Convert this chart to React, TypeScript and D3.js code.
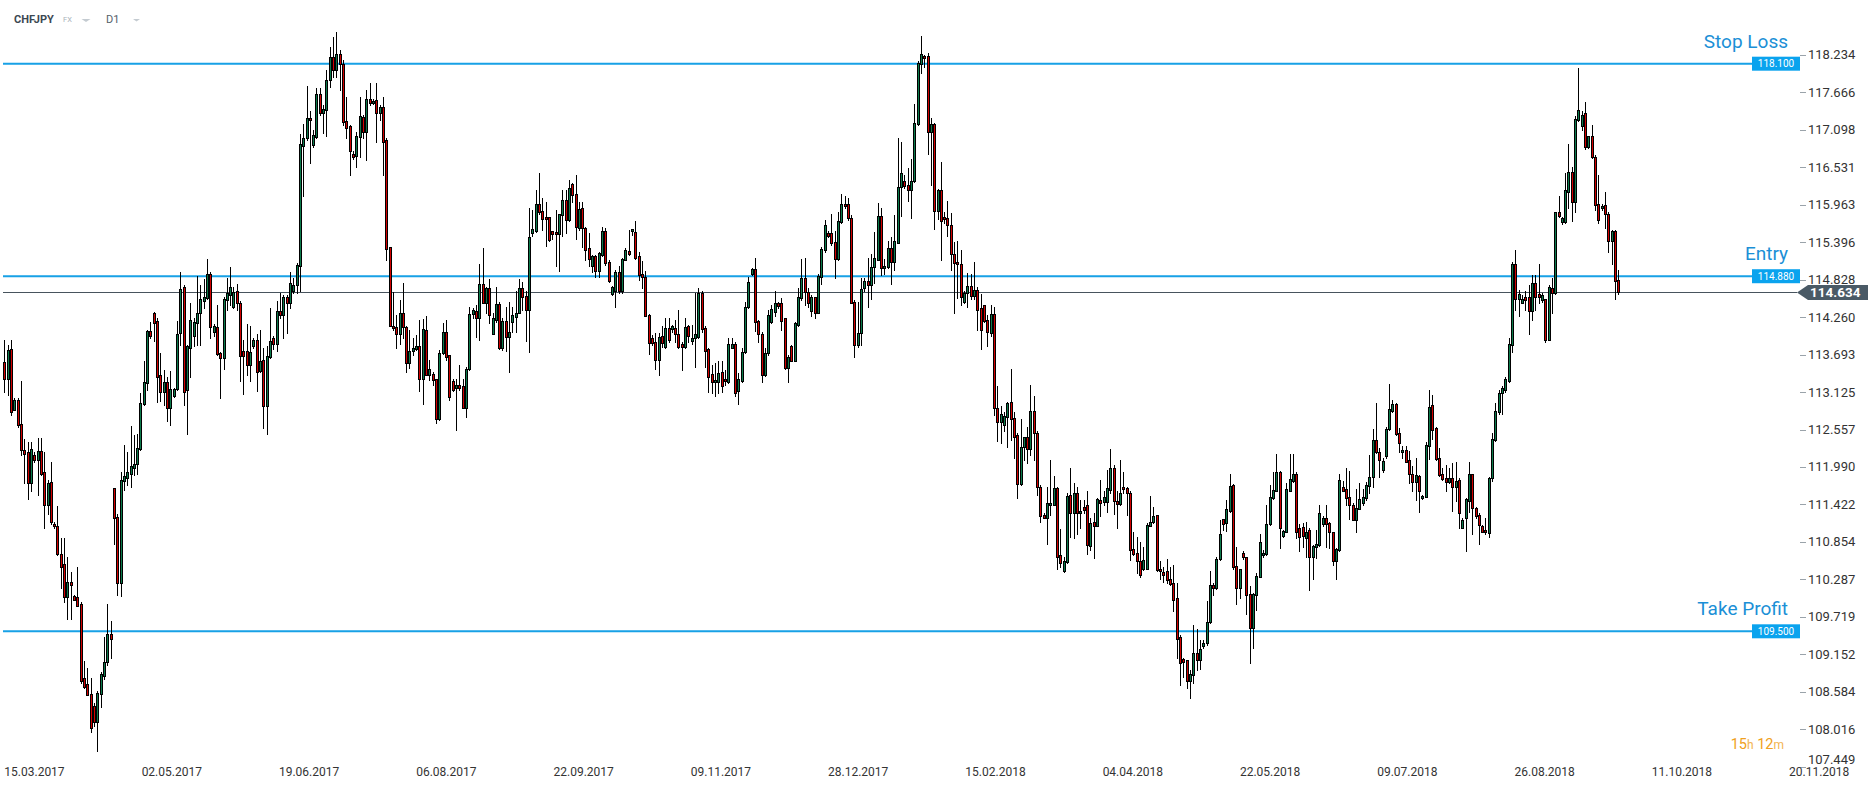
import React from 'react';
import * as d3 from 'd3';

// Daily CHFJPY candles, [open, high, low, close]
const ohlc: [number, number, number, number][] = [
  [113.58,113.91,113.12,113.33],[113.33,113.84,113.08,113.76],[113.77,113.91,112.77,112.82],[112.86,113.03,112.85,113.00],
  [113.00,113.03,112.60,112.62],[112.64,113.29,112.17,112.24],[112.24,112.42,111.75,112.19],[112.21,112.37,111.50,111.75],
  [111.75,112.37,111.62,112.26],[112.17,112.22,112.07,112.10],[112.10,112.43,111.57,112.23],[112.23,112.43,111.87,111.89],
  [111.91,112.22,111.06,111.41],[111.41,111.80,111.27,111.74],[111.76,112.07,111.12,111.15],[111.13,111.16,111.07,111.09],
  [111.09,111.40,110.66,110.67],[110.67,110.91,110.15,110.47],[110.52,110.91,109.94,110.02],[110.02,110.63,109.68,110.25],
  [110.25,110.40,109.68,110.20],[110.04,110.05,109.98,109.98],[110.02,110.48,109.88,109.88],[109.91,109.95,108.71,108.75],
  [108.79,109.05,108.64,108.66],[108.70,108.94,108.53,108.54],[108.55,108.79,107.98,108.03],[108.37,108.41,108.06,108.12],
  [108.12,108.60,107.69,108.56],[108.55,108.89,108.35,108.85],[108.83,109.42,108.78,109.04],[109.03,109.92,108.99,109.46],
  [109.46,109.65,109.09,109.39],[111.67,111.67,110.83,111.21],[111.23,111.28,110.05,110.23],[110.23,111.92,110.04,111.79],
  [111.77,112.32,111.64,111.85],[111.83,112.22,111.72,111.91],[111.88,112.61,111.69,112.00],[111.97,112.48,111.87,112.03],
  [112.03,112.49,111.88,112.27],[112.26,113.11,112.25,112.96],[112.94,113.60,112.93,113.28],[113.26,114.07,113.16,114.05],
  [114.05,114.19,113.94,113.97],[114.33,114.34,113.90,114.17],[114.20,114.24,112.98,113.36],[113.38,113.72,112.99,113.12],
  [113.13,113.46,112.93,113.28],[113.28,113.36,112.68,112.89],[112.89,113.45,112.63,113.17],[113.07,113.19,113.05,113.17],
  [113.17,114.20,113.16,114.01],[114.02,114.94,113.84,114.68],[114.71,114.75,112.93,113.12],[113.16,113.84,112.49,113.82],
  [113.80,114.47,113.36,114.22],[113.97,114.25,113.82,114.19],[114.17,114.88,113.84,114.33],[114.32,114.74,113.84,114.53],
  [114.50,114.84,114.40,114.56],[114.55,115.14,114.54,114.92],[114.92,114.95,113.94,114.11],[114.04,114.15,113.97,114.12],
  [114.11,114.44,113.68,113.70],[113.71,113.73,113.03,113.64],[113.64,114.56,113.48,114.53],[114.52,114.85,114.37,114.63],
  [114.60,115.02,114.45,114.71],[114.41,114.72,114.40,114.64],[114.65,114.76,114.37,114.47],[114.48,114.50,113.29,113.67],
  [113.75,113.92,113.09,113.67],[113.75,114.15,113.39,113.53],[113.53,114.13,113.29,113.73],[113.82,113.94,113.79,113.91],
  [113.91,114.00,113.14,113.43],[113.44,114.07,113.43,113.60],[113.61,113.79,112.58,112.91],[112.91,113.82,112.49,113.67],
  [113.65,114.40,113.64,113.90],[113.94,113.97,113.77,113.85],[113.85,114.50,113.75,114.35],[114.35,114.63,114.25,114.29],
  [114.29,114.60,113.94,114.56],[114.56,114.60,114.02,114.48],[114.48,114.95,114.40,114.78],[114.65,114.85,114.63,114.74],
  [114.74,115.08,114.63,115.05],[115.03,117.03,114.65,116.88],[116.86,117.18,116.09,116.97],[116.97,117.76,116.95,117.27],
  [117.28,117.39,116.60,117.24],[116.87,117.10,116.84,117.02],[116.99,117.73,116.97,117.64],[117.64,117.73,117.32,117.35],
  [117.35,117.47,117.05,117.41],[117.40,118.00,117.00,117.85],[117.85,118.35,117.75,118.20],[118.20,118.50,117.90,118.00],
  [118.00,118.58,117.90,118.25],[118.25,118.30,117.70,118.10],[118.10,118.15,117.17,117.21],[117.23,117.60,116.97,117.13],
  [117.16,117.17,116.41,116.77],[116.73,116.77,116.66,116.69],[116.70,117.07,116.54,117.00],[116.99,117.60,116.69,117.30],
  [117.29,117.32,116.97,117.07],[117.06,117.70,116.64,117.56],[117.56,117.80,117.47,117.50],[117.50,117.56,117.49,117.54],
  [117.55,117.80,116.92,117.35],[117.35,117.47,117.25,117.44],[117.44,117.60,116.41,116.92],[116.94,116.97,115.13,115.29],
  [115.32,115.33,114.12,114.13],[114.13,114.64,114.07,114.09],[114.11,114.29,113.79,114.00],[114.01,114.52,113.86,114.32],
  [114.32,114.77,113.94,114.11],[114.11,114.12,113.43,113.56],[113.56,114.07,113.49,113.75],[113.75,113.94,113.69,113.79],
  [113.77,113.99,113.76,113.82],[113.82,114.22,113.14,113.32],[113.32,114.23,112.95,114.08],[114.06,114.28,113.38,113.39],
  [113.39,113.61,113.31,113.47],[113.40,113.43,113.23,113.31],[113.32,113.33,112.65,112.71],[112.71,113.76,112.70,113.71],
  [113.71,114.17,113.70,114.03],[114.04,114.22,113.61,113.65],[113.69,113.69,113.00,113.05],[113.29,113.33,113.14,113.16],
  [113.18,113.33,112.55,113.23],[113.23,113.54,113.16,113.18],[113.21,113.33,112.88,112.88],[112.88,113.51,112.74,113.48],
  [113.48,114.42,113.46,114.30],[114.30,114.40,114.24,114.37],[114.36,114.44,113.96,114.24],[114.24,115.06,113.91,114.76],
  [114.76,115.30,114.47,114.48],[114.48,114.72,114.32,114.70],[114.70,114.84,114.17,114.29],[114.01,114.32,114.00,114.24],
  [114.22,114.72,114.19,114.46],[114.46,114.49,113.77,113.79],[113.79,114.24,113.76,114.20],[114.20,114.42,113.74,113.96],
  [113.96,114.49,113.43,114.03],[114.18,114.42,114.04,114.29],[114.26,114.66,114.04,114.33],[114.33,114.84,114.32,114.70],
  [114.70,114.79,114.37,114.56],[114.58,114.65,113.90,114.37],[114.37,115.91,113.73,115.47],[115.54,115.88,115.49,115.59],
  [115.57,116.19,115.55,115.97],[115.97,116.44,115.83,115.86],[115.87,116.06,115.58,115.74],[115.77,116.00,115.34,115.74],
  [115.77,115.78,115.42,115.43],[115.56,115.57,115.45,115.52],[115.55,115.88,115.03,115.52],[115.52,115.83,114.96,115.82],
  [115.81,116.19,115.49,116.04],[116.04,116.19,115.54,115.73],[115.73,116.34,115.71,116.21],[116.28,116.29,116.01,116.11],
  [116.13,116.41,115.45,115.62],[115.61,116.01,115.58,115.90],[115.91,116.00,115.33,115.61],[115.61,115.63,115.13,115.28],
  [115.30,115.53,115.03,115.14],[115.03,115.20,114.95,115.18],[115.19,115.20,114.87,114.96],[114.96,115.25,114.87,115.23],
  [115.20,115.63,115.18,115.57],[115.56,115.61,115.05,115.08],[115.10,115.13,114.79,114.80],[114.61,114.73,114.60,114.72],
  [114.65,114.97,114.42,114.95],[114.95,115.03,114.63,114.65],[114.65,115.15,114.63,115.14],[115.13,115.30,115.12,115.27],
  [115.26,115.58,115.20,115.21],[115.56,115.60,115.51,115.59],[115.55,115.72,115.14,115.15],[115.18,115.25,114.82,114.90],
  [114.92,115.11,114.70,114.87],[114.87,114.96,114.27,114.28],[114.29,114.30,113.70,113.87],[113.95,113.99,113.84,113.87],
  [113.88,114.02,113.48,113.61],[113.61,114.02,113.38,113.96],[113.97,114.12,113.81,113.87],[113.81,114.24,113.80,114.09],
  [114.09,114.24,113.89,113.91],[114.08,114.14,114.04,114.12],[114.10,114.22,113.89,114.01],[114.01,114.37,113.79,113.81],
  [113.86,113.89,113.46,113.81],[113.81,114.24,113.79,114.11],[114.12,114.14,113.89,113.98],[113.90,114.14,113.86,113.95],
  [113.95,114.62,113.51,114.00],[113.96,114.70,113.95,114.62],[114.62,114.66,114.04,114.08],[114.09,114.12,113.51,113.74],
  [113.78,113.80,113.13,113.36],[113.40,113.54,113.11,113.27],[113.27,113.56,113.06,113.31],[113.28,113.59,113.11,113.42],
  [113.43,113.59,113.13,113.22],[113.33,113.46,113.23,113.29],[113.28,113.95,113.26,113.85],[113.80,113.95,113.79,113.86],
  [113.86,113.89,113.06,113.11],[113.14,113.41,112.95,113.32],[113.29,113.79,113.28,113.73],[113.73,114.49,113.71,114.42],
  [114.42,114.87,114.40,114.79],[114.92,115.00,114.90,114.99],[114.99,115.15,114.05,114.18],[114.20,114.22,113.89,114.01],
  [114.01,114.04,113.28,113.39],[113.38,113.79,113.37,113.71],[113.71,114.37,113.69,114.29],[114.18,114.44,114.17,114.38],
  [114.34,114.65,114.27,114.48],[114.47,114.49,114.40,114.43],[114.47,114.55,114.07,114.20],[114.24,114.25,113.47,113.49],
  [113.49,113.69,113.28,113.65],[113.82,113.84,113.59,113.60],[113.60,114.19,113.59,114.17],[114.14,114.70,114.13,114.56],
  [114.55,115.14,114.52,114.85],[114.85,115.16,114.44,114.64],[114.64,114.70,114.42,114.47],[114.35,114.60,114.27,114.56],
  [114.56,114.57,114.25,114.33],[114.33,114.91,114.32,114.89],[114.87,115.33,114.76,115.29],[115.28,115.73,115.25,115.66],
  [115.53,115.57,115.48,115.49],[115.53,115.83,115.35,115.39],[115.40,115.56,114.85,115.14],[115.14,115.86,115.13,115.72],
  [115.70,116.12,115.68,115.98],[115.98,116.09,115.91,115.95],[115.98,116.07,115.73,115.76],[115.76,115.81,114.47,114.48],
  [114.49,114.52,113.66,113.84],[113.84,114.49,113.81,114.02],[114.02,114.85,113.84,114.69],[114.70,114.85,114.65,114.80],
  [114.80,115.16,114.42,114.74],[114.74,115.21,114.54,115.02],[115.02,115.55,114.78,115.16],[115.13,115.99,115.12,115.79],
  [115.79,115.92,114.90,115.01],[115.01,115.14,114.91,115.04],[115.02,115.41,115.01,115.31],[115.31,115.47,114.76,115.10],
  [115.09,115.81,114.98,115.41],[115.39,116.97,115.38,116.23],[116.23,116.92,115.79,116.44],[116.32,116.42,116.22,116.24],
  [116.26,116.52,116.02,116.18],[116.18,116.65,115.76,116.33],[116.32,117.49,116.31,117.20],[117.18,118.14,117.17,118.11],
  [118.10,118.52,117.96,118.24],[118.21,118.23,118.05,118.19],[118.21,118.26,116.73,117.06],[117.06,117.28,116.26,117.18],
  [117.18,117.20,115.60,115.87],[115.87,116.20,115.74,116.19],[116.19,116.61,115.12,115.71],[115.77,115.86,115.69,115.74],
  [115.76,116.02,115.49,115.65],[115.66,115.84,114.98,115.21],[115.22,115.40,114.32,115.08],[115.09,115.41,114.55,115.06],
  [115.07,115.28,114.45,114.56],[114.49,114.66,114.48,114.63],[114.63,114.93,114.41,114.73],[114.73,114.91,114.53,114.58],
  [114.58,115.10,114.53,114.67],[114.67,114.71,114.06,114.37],[114.40,114.61,113.77,114.07],[114.44,114.45,114.19,114.20],
  [114.22,114.29,113.83,114.04],[114.02,114.44,113.97,114.31],[114.31,114.42,112.77,112.88],[112.88,113.21,112.38,112.67],
  [112.67,112.91,112.35,112.79],[112.62,112.83,112.53,112.76],[112.74,112.98,112.30,112.96],[112.97,113.48,112.40,112.72],
  [112.73,112.83,112.13,112.45],[112.47,112.50,111.52,111.73],[111.73,112.71,111.72,112.30],[112.30,112.45,112.10,112.44],
  [112.44,112.60,112.05,112.26],[112.26,113.23,112.17,112.84],[112.84,113.06,112.10,112.50],[112.51,112.53,111.57,111.68],
  [111.69,111.72,111.16,111.25],[111.26,111.29,111.21,111.22],[111.22,111.69,110.83,111.45],[111.42,112.10,111.26,111.45],
  [111.42,111.85,111.41,111.67],[111.67,111.69,110.44,110.63],[110.65,111.05,110.48,110.53],[110.41,110.63,110.40,110.56],
  [110.55,111.59,110.53,111.55],[111.57,111.97,110.93,111.29],[111.29,111.74,110.91,111.60],[111.60,111.69,110.98,111.29],
  [111.29,111.49,111.06,111.32],[111.39,111.49,111.29,111.34],[111.41,111.63,110.67,110.81],[110.80,111.21,110.73,111.14],
  [111.15,111.29,110.61,111.10],[111.10,111.52,111.09,111.50],[111.49,111.79,111.24,111.45],[111.46,111.62,111.41,111.54],
  [111.46,111.94,111.31,111.67],[111.64,112.26,111.60,111.98],[111.98,112.02,111.27,111.47],[111.47,111.63,111.06,111.43],
  [111.43,112.10,111.42,111.59],[111.69,111.92,111.59,111.65],[111.67,111.69,111.26,111.59],[111.60,111.62,110.58,110.73],
  [110.74,111.01,110.66,110.67],[110.69,110.93,110.38,110.57],[110.57,110.86,110.33,110.35],[110.45,110.78,110.43,110.58],
  [110.45,111.14,110.44,111.11],[111.10,111.55,111.09,111.16],[111.16,111.39,111.14,111.25],[111.26,111.26,110.42,110.43],
  [110.45,110.57,110.30,110.42],[110.40,110.48,110.25,110.35],[110.41,110.59,110.23,110.28],[110.30,110.48,110.20,110.22],
  [110.23,110.51,109.81,109.98],[110.00,110.23,109.09,109.39],[109.41,109.44,108.69,109.02],[109.08,109.09,108.81,109.03],
  [109.06,109.07,108.64,108.74],[108.75,108.91,108.49,108.85],[108.84,109.60,108.71,109.17],[109.17,109.53,108.91,109.07],
  [109.07,109.37,108.93,109.23],[109.27,109.37,109.25,109.33],[109.32,109.96,109.30,109.64],[109.64,110.41,109.62,110.20],
  [110.20,110.23,110.05,110.16],[110.16,110.63,110.14,110.59],[110.59,111.19,110.58,110.97],[111.20,111.20,111.03,111.12],
  [111.14,111.49,111.02,111.35],[111.33,111.89,111.31,111.70],[111.72,111.73,110.45,110.47],[110.49,110.78,109.92,110.15],
  [110.15,110.45,110.00,110.44],[110.68,110.71,110.59,110.62],[110.62,110.63,109.76,110.05],[110.06,110.18,109.02,109.55],
  [109.55,110.08,109.24,110.06],[110.05,110.38,109.82,110.34],[110.33,110.98,110.32,110.85],[110.65,110.73,110.63,110.68],
  [110.67,111.42,110.66,111.12],[111.12,111.72,111.11,111.53],[111.52,111.91,111.51,111.64],[111.63,112.18,111.62,111.91],
  [111.92,111.93,110.76,111.07],[110.94,111.04,110.93,111.02],[111.01,111.74,111.00,111.65],[111.63,112.18,111.62,111.81],
  [111.78,112.18,111.76,111.89],[111.89,111.91,110.91,111.01],[111.06,111.12,110.71,110.93],[111.08,111.14,110.78,110.94],
  [110.92,111.15,110.63,111.01],[111.04,111.06,110.12,110.62],[110.62,110.81,110.30,110.79],[110.78,111.04,110.61,110.83],
  [110.81,111.41,110.80,111.30],[111.12,111.24,111.10,111.22],[111.21,111.41,110.78,111.12],[111.14,111.16,110.76,111.00],
  [111.00,111.01,110.51,110.56],[110.56,110.76,110.30,110.74],[110.73,111.89,110.72,111.79],[111.69,111.77,111.62,111.63],
  [111.66,111.97,111.41,111.52],[111.53,111.93,111.20,111.41],[111.42,111.44,111.18,111.19],[111.19,111.66,111.01,111.37],
  [111.36,111.74,111.35,111.50],[111.44,111.66,111.42,111.53],[111.52,111.76,111.49,111.71],[111.70,112.17,111.59,111.84],
  [111.84,112.56,111.69,112.40],[112.40,112.96,112.20,112.21],[112.22,112.27,111.84,112.10],[111.94,112.12,111.92,112.08],
  [112.15,112.60,112.13,112.57],[112.57,113.24,112.55,112.87],[112.84,113.01,112.83,112.94],[112.94,112.96,112.48,112.49],
  [112.50,112.58,112.22,112.36],[112.21,112.31,112.12,112.25],[112.25,112.31,112.06,112.07],[112.10,112.23,111.74,111.88],
  [111.89,112.00,111.62,111.76],[111.76,112.12,111.49,111.87],[111.85,111.87,111.31,111.62],[111.52,111.57,111.51,111.55],
  [111.54,112.37,111.53,112.33],[112.31,113.16,112.11,112.90],[112.93,113.08,112.42,112.55],[112.58,112.60,112.10,112.11],
  [112.12,112.27,111.86,111.87],[111.88,111.97,111.79,111.81],[111.82,112.02,111.63,111.76],[111.76,111.97,111.74,111.82],
  [111.82,112.05,111.32,111.68],[111.68,112.07,111.47,111.78],[111.79,111.82,111.07,111.29],[111.07,111.21,111.06,111.19],
  [111.21,111.52,110.72,111.50],[111.48,112.06,111.31,111.88],[111.88,111.89,110.97,111.37],[111.37,111.39,111.22,111.25],
  [111.26,111.29,110.82,111.11],[111.09,111.11,111.00,111.01],[111.04,111.22,110.97,111.00],[110.99,111.84,110.93,111.83],
  [111.83,112.50,111.77,112.41],[112.40,112.96,112.38,112.84],[112.82,113.16,112.80,113.11],[113.11,113.21,112.79,113.18],
  [113.16,113.36,113.13,113.32],[113.30,113.94,113.28,113.85],[113.84,115.10,113.73,115.07],[115.07,115.28,114.37,114.53],
  [114.53,114.67,114.27,114.61],[114.48,114.59,114.47,114.54],[114.56,114.65,114.37,114.52],[114.56,114.74,114.01,114.35],
  [114.35,114.90,114.21,114.77],[114.77,114.90,114.37,114.57],[114.61,115.07,114.47,114.56],[114.52,114.62,114.49,114.60],
  [114.53,114.54,113.88,113.92],[113.92,114.75,113.91,114.71],[114.70,114.85,114.32,114.62],[114.62,115.86,114.61,115.85],
  [115.85,116.09,115.78,115.79],[115.70,115.78,115.67,115.76],[115.70,116.44,115.68,116.19],[116.16,116.88,115.91,116.46],
  [116.46,116.54,115.72,116.01],[116.01,117.31,115.86,117.26],[117.25,118.03,117.23,117.40],[117.15,117.38,117.10,117.33],
  [117.35,117.52,116.81,116.84],[116.84,117.01,116.83,117.00],[117.00,117.17,116.67,116.68],[116.69,116.72,115.88,115.96],
  [115.97,116.41,115.68,115.73],[115.91,115.97,115.88,115.95],[115.96,116.15,115.61,115.82],[115.82,115.86,115.25,115.41],
  [115.41,115.58,115.07,115.56],[115.56,115.58,114.54,114.80],[114.82,114.97,114.61,114.634],
];

const priceTicks = [
  118.234, 117.666, 117.098, 116.531, 115.963, 115.396, 114.828, 114.260, 113.693, 113.125,
  112.557, 111.990, 111.422, 110.854, 110.287, 109.719, 109.152, 108.584, 108.016, 107.449,
];

const dateLabels = [
  '15.03.2017', '02.05.2017', '19.06.2017', '06.08.2017', '22.09.2017', '09.11.2017', '28.12.2017',
  '15.02.2018', '04.04.2018', '22.05.2018', '09.07.2018', '26.08.2018', '11.10.2018', '20.11.2018',
];
const firstLabelBar = 9.08;
const barsPerLabel = 41.34;

const levelNames = ['Stop Loss', 'Entry', 'Take Profit'];
const levelValues = [118.1, 114.88, 109.5];
const lastPrice = 114.634;
const countdown = [['15', 'h'], ['12', 'm']];

const FONT = 'Roboto, "Noto Sans", Arial, sans-serif';
const UP = '#0b7a4b';
const DOWN = '#d10000';
const LEVEL = '#17a1e6';
const LEVEL_TEXT = '#1b8fd6';

export default function App() {
  const W = 1868;
  const H = 790;
  const x = d3.scaleLinear().domain([0, ohlc.length - 1]).range([4.33, 1618.3]);
  const y = d3.scaleLinear().domain([109.5, 118.1]).range([631.3, 63.7]);
  const px = (v: number) => Math.round(y(v));
  const fmt = d3.format('.3f');
  const axisLabelMaxY = 763.5;

  return (
    <svg
      width={W}
      height={H}
      style={{ position: 'absolute', left: 0, top: 0, background: '#fff', fontFamily: FONT }}
    >
      <rect x={0} y={0} width={W} height={H} fill="#fff" />

      {/* header */}
      <text x={14} y={23} fontSize={11} fontWeight={700} fill="#3c4852">CHFJPY</text>
      <text x={63} y={22} fontSize={7.5} fill="#a9b2ba">FX</text>
      <path d="M81.5,19 L90.5,19 L86,22 Z" fill="#c4cbd1" />
      <text x={106} y={23} fontSize={11} fill="#55606a">D1</text>
      <path d="M133,19 L140,19 L136.5,21.5 Z" fill="#c4cbd1" />

      {/* level lines */}
      {levelValues.map((v, i) => (
        <line key={'lv' + i} x1={3} x2={1752} y1={y(v)} y2={y(v)} stroke={LEVEL} strokeWidth={2} />
      ))}

      {/* current price line */}
      <line x1={3} x2={1797} y1={px(lastPrice) + 0.5} y2={px(lastPrice) + 0.5} stroke="#47535d" strokeWidth={1} />

      {/* candles */}
      {ohlc.map(([o, h, l, c], i) => {
        const cx = Math.round(x(i));
        const top = px(Math.max(o, c));
        const bot = px(Math.min(o, c));
        return (
          <g key={i}>
            <line x1={cx + 0.5} x2={cx + 0.5} y1={px(h)} y2={px(l) + 1} stroke="#000" strokeWidth={1} />
            <rect
              x={cx - 0.5}
              y={top + 0.5}
              width={2}
              height={Math.max(bot - top, 1)}
              fill={c >= o ? UP : DOWN}
              stroke="#000"
              strokeWidth={1}
            />
          </g>
        );
      })}

      {/* level labels and tags */}
      {levelValues.map((v, i) => (
        <g key={'lt' + i}>
          <text x={1788} y={y(v) - 16} fontSize={19} fill={LEVEL_TEXT} textAnchor="end">
            {levelNames[i]}
          </text>
          <rect x={1752} y={y(v) - 7} width={48} height={14} fill="#0aa3ee" />
          <text x={1776} y={y(v) + 3.5} fontSize={10} fill="#fff" textAnchor="middle">
            {fmt(v)}
          </text>
        </g>
      ))}

      {/* price axis */}
      {priceTicks.map((t) => (
        <g key={'pt' + t}>
          <line x1={1800} x2={1806} y1={px(t) + 0.5} y2={px(t) + 0.5} stroke="#9aa3aa" />
          <text x={1808} y={Math.min(y(t) + 4.5, axisLabelMaxY)} fontSize={13} fill="#333">
            {fmt(t)}
          </text>
        </g>
      ))}

      {/* last price tag */}
      <path
        d={`M1797,${y(lastPrice)} L1808,${y(lastPrice) - 7.5} L1868,${y(lastPrice) - 7.5} L1868,${y(lastPrice) + 7.5} L1808,${y(lastPrice) + 7.5} Z`}
        fill="#4a5a66"
      />
      <text x={1810} y={y(lastPrice) + 5} fontSize={13.5} fontWeight={700} fill="#fff">
        {fmt(lastPrice)}
      </text>

      {/* date axis */}
      {dateLabels.map((d, k) => (
        <text key={d} x={x(firstLabelBar + k * barsPerLabel)} y={776} fontSize={12} fill="#333" textAnchor="middle">
          {d}
        </text>
      ))}

      {/* countdown */}
      <text x={1784} y={749} fontSize={14.5} fill="#f0a020" textAnchor="end">
        {countdown.map(([n, u], k) => (
          <React.Fragment key={u}>
            <tspan>{(k > 0 ? ' ' : '') + n}</tspan>
            <tspan fontSize={12} fill="#f3b450">{u}</tspan>
          </React.Fragment>
        ))}
      </text>
    </svg>
  );
}
